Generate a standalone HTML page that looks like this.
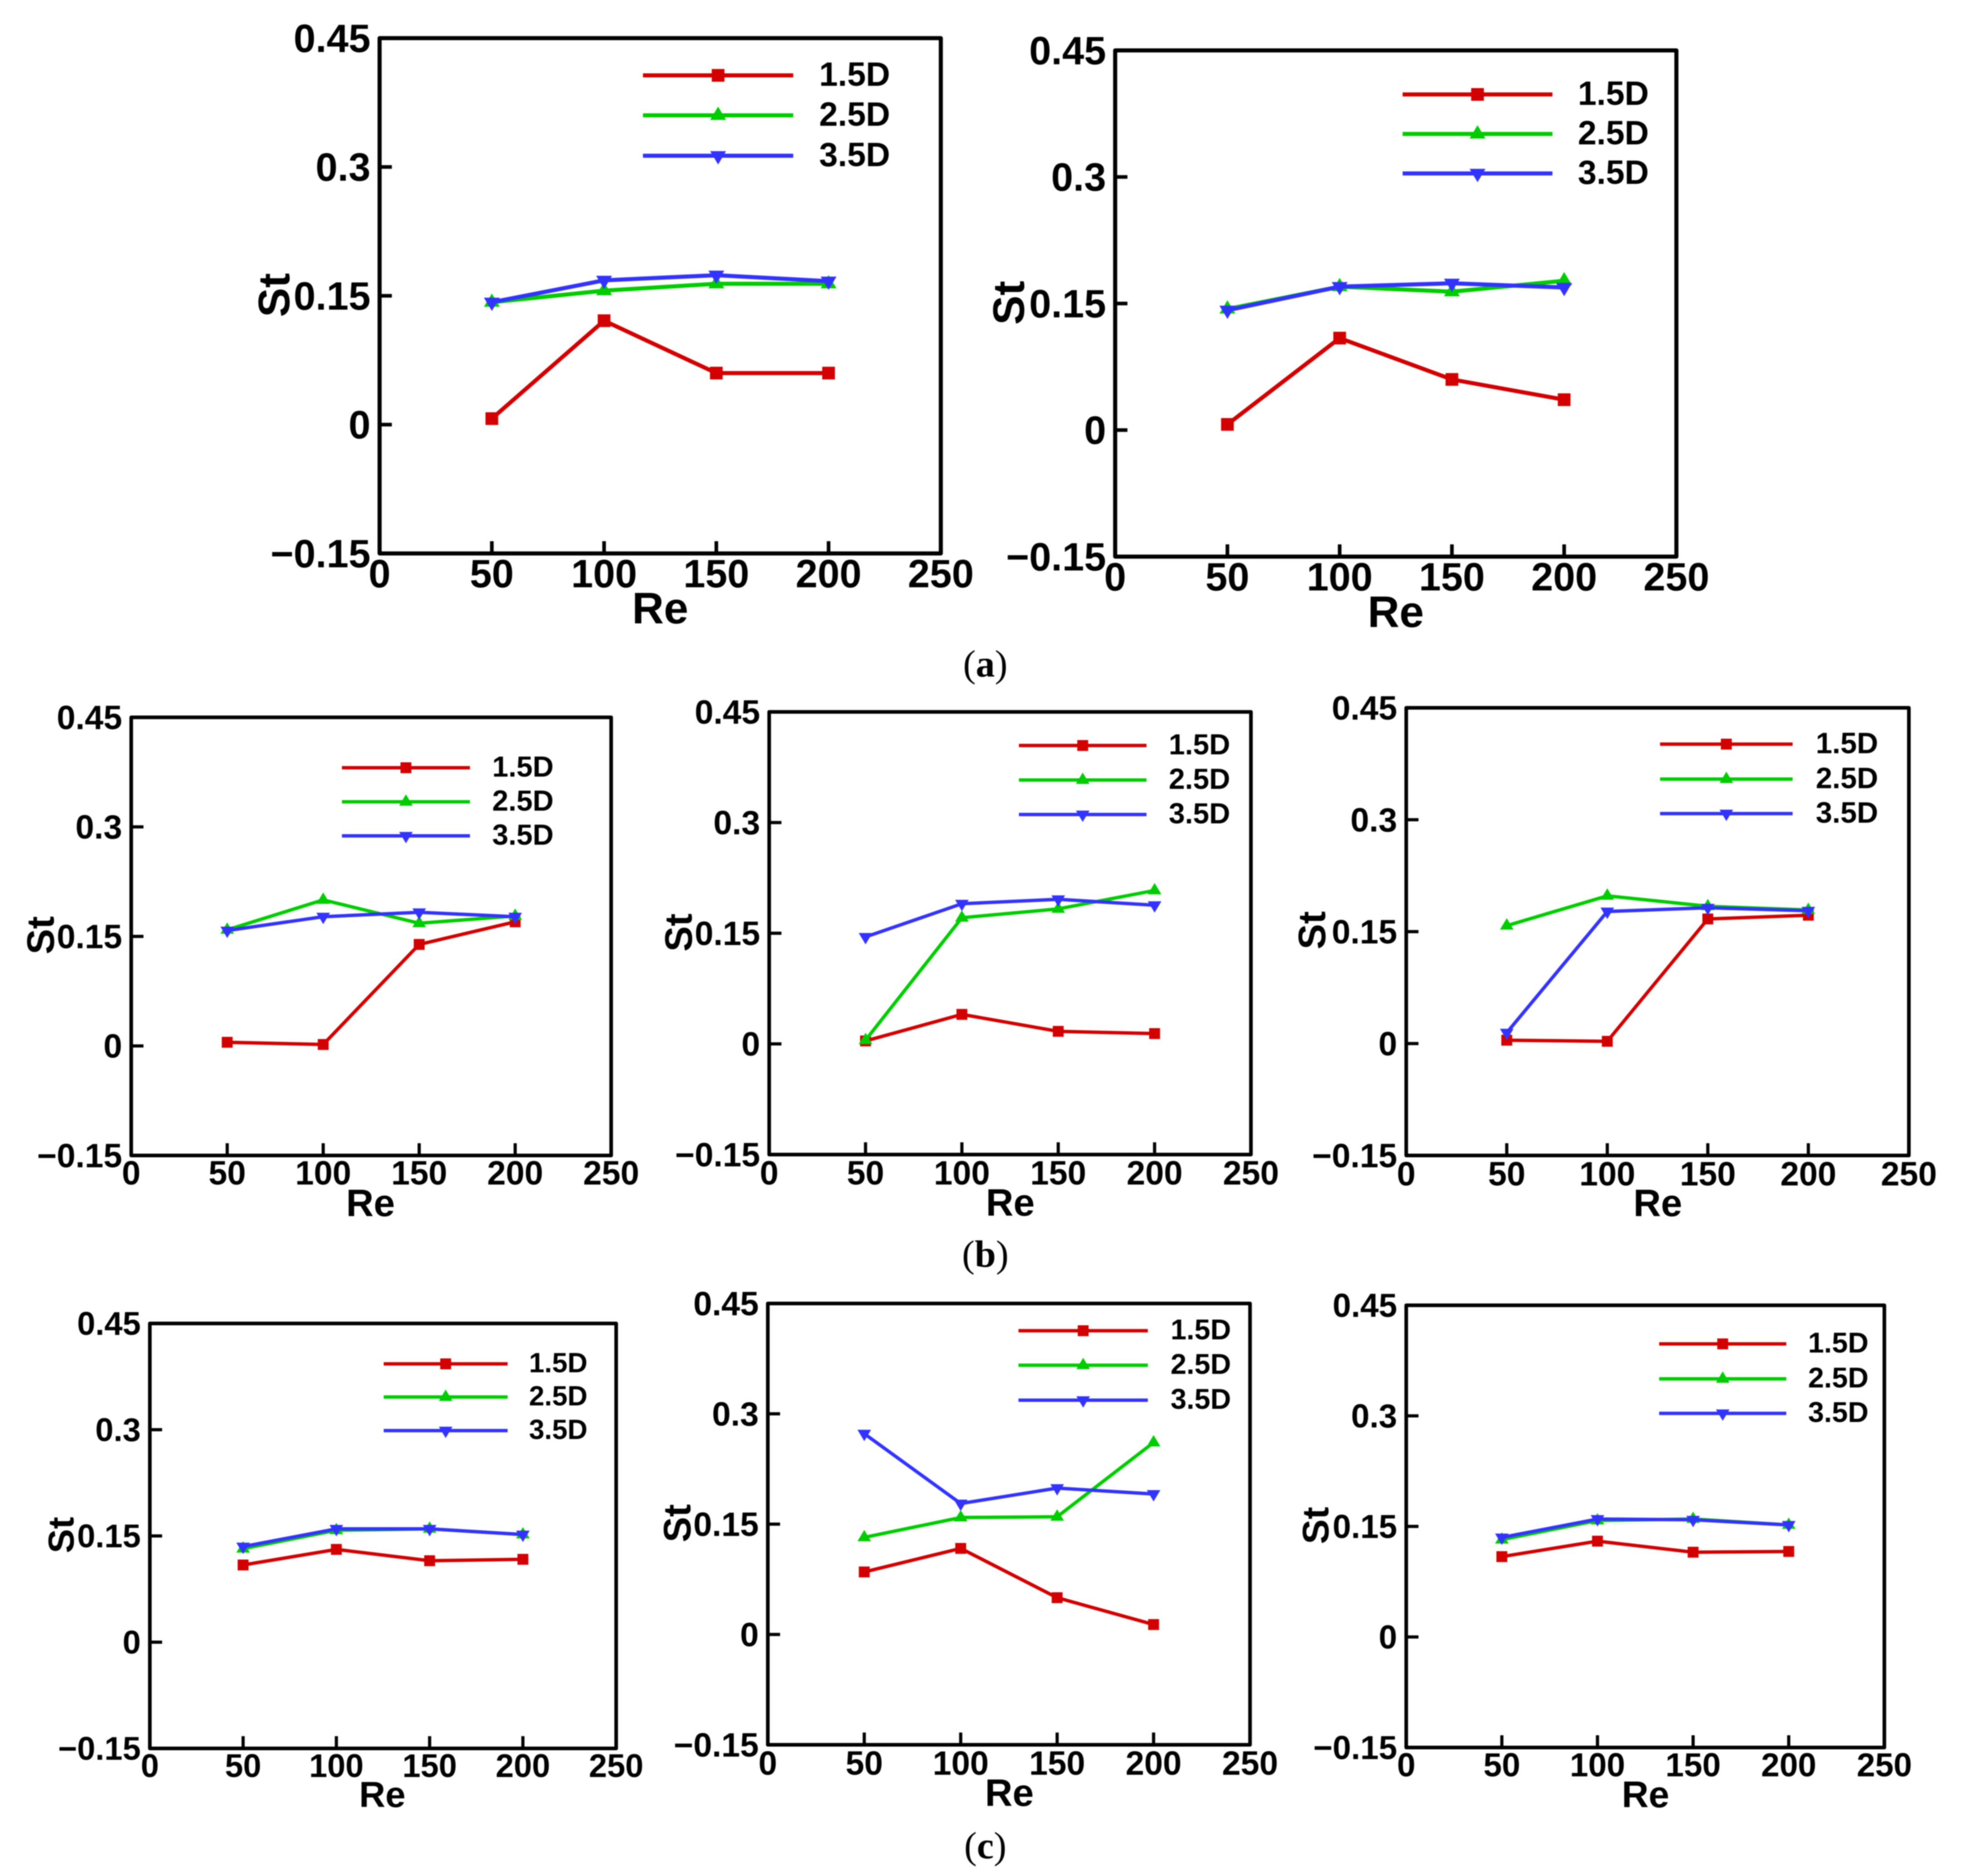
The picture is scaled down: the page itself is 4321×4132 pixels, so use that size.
<!DOCTYPE html>
<html lang="en">
<head>
<meta charset="utf-8">
<title>Strouhal number versus Reynolds number</title>
<style>
html,body{margin:0;padding:0;background:#fff;}
#figure{display:block;width:4321px;height:4132px;filter:blur(1px);}
text{font-family:"Liberation Sans",Arial,sans-serif;font-weight:bold;fill:#000;}
text.caption{font-family:"Liberation Serif","Times New Roman",serif;font-size:84px;font-weight:normal;}
text.caption tspan{font-weight:bold;}
</style>
</head>
<body>
<svg id="figure" xmlns="http://www.w3.org/2000/svg" width="4321" height="4132" viewBox="0 0 4321 4132"></svg>
<script>
// Shared axis data
const reValues = [50, 100, 150, 200];
const xTicks = [0, 50, 100, 150, 200, 250];
const xTickLabels = ['0', '50', '100', '150', '200', '250'];
const yTicks = [-0.15, 0, 0.15, 0.3, 0.45];
const yTickLabels = ['\u22120.15', '0', '0.15', '0.3', '0.45'];
const seriesNames = ['1.5D', '2.5D', '3.5D'];

// Values
const a1Series15 = [0.007, 0.121, 0.060, 0.060];
const a1Series25 = [0.1425, 0.156, 0.164, 0.164];
const a1Series35 = [0.1425, 0.168, 0.174, 0.167];

const a2Series15 = [0.0067, 0.109, 0.060, 0.036];
const a2Series25 = [0.1435, 0.170, 0.164, 0.177];
const a2Series35 = [0.142, 0.170, 0.174, 0.169];

const b1Series15 = [0.005, 0.002, 0.139, 0.170];
const b1Series25 = [0.159, 0.200, 0.168, 0.178];
const b1Series35 = [0.158, 0.177, 0.183, 0.177];

const b2Series15 = [0.004, 0.040, 0.017, 0.014];
const b2Series25 = [0.005, 0.171, 0.183, 0.208];
const b2Series35 = [0.145, 0.190, 0.196, 0.188];

const b3Series15 = [0.0045, 0.003, 0.167, 0.172];
const b3Series25 = [0.158, 0.198, 0.184, 0.179];
const b3Series35 = [0.0146, 0.177, 0.182, 0.178];

const c1Series15 = [0.109, 0.131, 0.115, 0.117];
const c1Series25 = [0.132, 0.158, 0.160, 0.152];
const c1Series35 = [0.135, 0.160, 0.160, 0.152];

const c2Series15 = [0.085, 0.117, 0.050, 0.0135];
const c2Series25 = [0.132, 0.159, 0.160, 0.261];
const c2Series35 = [0.273, 0.178, 0.199, 0.191];

const c3Series15 = [0.109, 0.130, 0.115, 0.116];
const c3Series25 = [0.132, 0.158, 0.160, 0.152];
const c3Series35 = [0.135, 0.160, 0.159, 0.152];

// Panel layout (separate from data)
const seriesColors = ['#d20000', '#00cc00', '#3333ff'];
const panels = [
  {key:'a-left',  l:836,  r:2072, t:84,   b:1219, tick:87, leg:74, lab:97, lw:9, sw:9, ms:14, xOff:44, leg0:1416, leg1:1747, legText:1804, legY:[163,251,340],  reX:1454, reY:1339, stX:603,  stY:650,  s:[a1Series15,a1Series25,a1Series35]},
  {key:'a-right', l:2456, r:3692, t:111,  b:1226, tick:87, leg:74, lab:97, lw:9, sw:9, ms:14, xOff:44, leg0:3089, leg1:3419, legText:3475, legY:[205,292,379],  reX:3074, reY:1347, stX:2221, stY:667,  s:[a2Series15,a2Series25,a2Series35]},
  {key:'b-left',  l:289,  r:1346, t:1580, b:2545, tick:74, leg:64, lab:84, lw:8, sw:7.5, ms:12, xOff:38, leg0:753,  leg1:1035, legText:1084, legY:[1688,1763,1838], reX:816,  reY:2649, stX:89,   stY:2060, s:[b1Series15,b1Series25,b1Series35]},
  {key:'b-middle',l:1694, r:2755, t:1568, b:2543, tick:74, leg:64, lab:84, lw:8, sw:7.5, ms:12, xOff:40, leg0:2244, leg1:2525, legText:2574, legY:[1639,1715,1791], reX:2225, reY:2648, stX:1494, stY:2054, s:[b2Series15,b2Series25,b2Series35]},
  {key:'b-right', l:3097, r:4204, t:1559, b:2545, tick:74, leg:65, lab:84, lw:8, sw:7.5, ms:12, xOff:40, leg0:3656, leg1:3948, legText:3999, legY:[1636,1713,1789], reX:3651, reY:2649, stX:2889, stY:2049, s:[b3Series15,b3Series25,b3Series35]},
  {key:'c-left',  l:330,  r:1357, t:2915, b:3851, tick:72, leg:61, lab:80, lw:8, sw:7.5, ms:12, xOff:38, leg0:845,  leg1:1118, legText:1165, legY:[3001,3074,3148], reX:842,  reY:3952, stX:134,  stY:3381, s:[c1Series15,c1Series25,c1Series35]},
  {key:'c-middle',l:1691, r:2753, t:2871, b:3843, tick:74, leg:63, lab:84, lw:8, sw:7.5, ms:12, xOff:40, leg0:2243, leg1:2528, legText:2578, legY:[2928,3004,3081], reX:2223, reY:3948, stX:1491, stY:3355, s:[c2Series15,c2Series25,c2Series35]},
  {key:'c-right', l:3097, r:4150, t:2875, b:3849, tick:73, leg:63, lab:82, lw:8, sw:7.5, ms:12, xOff:38, leg0:3654, leg1:3934, legText:3982, legY:[2957,3034,3110], reX:3624, reY:3952, stX:2897, stY:3360, s:[c3Series15,c3Series25,c3Series35]}
];

const captionLetters = ['a', 'b', 'c'];
const captionY = [1464, 2764, 4067];

const SVG_NS = 'http://www.w3.org/2000/svg';
const figure = document.getElementById('figure');

function make(tag, parent) {
  const node = document.createElementNS(SVG_NS, tag);
  parent.appendChild(node);
  return node;
}
function markerPoints(cx, cy, m, dir) {
  const h = m * 1.2;
  return (cx - m * 1.25) + ',' + (cy - dir * h * 0.6) + ' ' +
         (cx + m * 1.25) + ',' + (cy - dir * h * 0.6) + ' ' +
         cx + ',' + (cy + dir * h * 1.15);
}
function drawMarker(parent, index, cx, cy, m, color) {
  let el;
  if (index === 0) {
    el = make('rect', parent);
    
    
    el.setAttribute('x', cx - m);
    el.setAttribute('y', cy - m);
    el.setAttribute('width', 2 * m);
    el.setAttribute('height', 2 * m);
  } else if (index === 1) {
    el = make('polygon', parent);
    
    
    el.setAttribute('points', markerPoints(cx, cy, m, -1));
  } else {
    el = make('polygon', parent);
    
    
    el.setAttribute('points', markerPoints(cx, cy, m, 1));
  }
  el.setAttribute('fill', color);
}

panels.forEach(function (p) {
  const xScale = function (v) { return p.l + (v - 0) / 250 * (p.r - p.l); };
  const yScale = function (v) { return p.b - (v + 0.15) / 0.6 * (p.b - p.t); };

  const g = make('g', figure);
  
  

  const frame = make('rect', g);
  
  
  frame.setAttribute('x', p.l);
  frame.setAttribute('y', p.t);
  frame.setAttribute('width', p.r - p.l);
  frame.setAttribute('height', p.b - p.t);
  frame.setAttribute('fill', 'none');
  frame.setAttribute('stroke', '#000');
  frame.setAttribute('stroke-width', p.lw);
  frame.setAttribute('stroke-linejoin', 'round');

  xTicks.forEach(function (v, i) {
    const x = xScale(v);
    if (i > 0 && i < xTicks.length - 1) {
      const tick = make('line', g);
      
      
      tick.setAttribute('x1', x);
      tick.setAttribute('x2', x);
      tick.setAttribute('y1', p.b);
      tick.setAttribute('y2', p.b - 27);
      tick.setAttribute('stroke', '#000');
      tick.setAttribute('stroke-width', p.lw - 1);
    }
    const label = make('text', g);
    
    
    label.setAttribute('x', x);
    label.setAttribute('y', p.b + p.xOff + p.tick * 0.35);
    label.setAttribute('text-anchor', 'middle');
    label.setAttribute('font-size', p.tick);
    label.textContent = xTickLabels[i];
  });

  yTicks.forEach(function (v, i) {
    const y = yScale(v);
    if (i > 0 && i < yTicks.length - 1) {
      const tick = make('line', g);
      
      
      tick.setAttribute('x1', p.l);
      tick.setAttribute('x2', p.l + 27);
      tick.setAttribute('y1', y);
      tick.setAttribute('y2', y);
      tick.setAttribute('stroke', '#000');
      tick.setAttribute('stroke-width', p.lw - 1);
    }
    const label = make('text', g);
    
    
    label.setAttribute('x', p.l - 20);
    label.setAttribute('y', y + p.tick * 0.35);
    label.setAttribute('text-anchor', 'end');
    label.setAttribute('font-size', p.tick);
    label.textContent = yTickLabels[i];
  });

  const xTitle = make('text', g);
  
  
  xTitle.setAttribute('x', p.reX);
  xTitle.setAttribute('y', p.reY + p.lab * 0.35);
  xTitle.setAttribute('text-anchor', 'middle');
  xTitle.setAttribute('font-size', p.lab);
  xTitle.textContent = 'Re';

  const yTitle = make('text', g);
  
  
  yTitle.setAttribute('text-anchor', 'middle');
  yTitle.setAttribute('font-size', p.lab);
  yTitle.setAttribute('transform', 'translate(' + (p.stX + p.lab * 0.35) + ' ' + p.stY + ') rotate(-90)');
  yTitle.textContent = 'St';

  p.s.forEach(function (values, si) {
    const sg = make('g', g);
    
    

    const line = make('polyline', sg);
    
    
    line.setAttribute('points', values.map(function (v, i) {
      return xScale(reValues[i]) + ',' + yScale(v);
    }).join(' '));
    line.setAttribute('fill', 'none');
    line.setAttribute('stroke', seriesColors[si]);
    line.setAttribute('stroke-width', p.sw);
    line.setAttribute('stroke-linejoin', 'round');

    values.forEach(function (v, i) {
      drawMarker(sg, si, xScale(reValues[i]), yScale(v), p.ms, seriesColors[si]);
    });
  });

  seriesNames.forEach(function (name, si) {
    const entry = make('g', g);
    
    
    const ly = p.legY[si];

    const sample = make('line', entry);
    
    
    sample.setAttribute('x1', p.leg0);
    sample.setAttribute('x2', p.leg1);
    sample.setAttribute('y1', ly + 3);
    sample.setAttribute('y2', ly + 3);
    sample.setAttribute('stroke', seriesColors[si]);
    sample.setAttribute('stroke-width', p.sw);

    drawMarker(entry, si, (p.leg0 + p.leg1) / 2, ly + 3, p.ms, seriesColors[si]);

    const text = make('text', entry);
    
    
    text.setAttribute('x', p.legText);
    text.setAttribute('y', ly + p.leg * 0.35);
    text.setAttribute('font-size', p.leg);
    text.textContent = name;
  });
});

captionLetters.forEach(function (letter, i) {
  const cap = make('text', figure);
  
  
  cap.setAttribute('class', 'caption');
  cap.setAttribute('x', 2170);
  cap.setAttribute('y', captionY[i] + 26);
  cap.setAttribute('text-anchor', 'middle');
  cap.appendChild(document.createTextNode('('));
  const letterSpan = make('tspan', cap);
  
  
  letterSpan.textContent = letter;
  cap.appendChild(document.createTextNode(')'));
});
</script>
</body>
</html>
